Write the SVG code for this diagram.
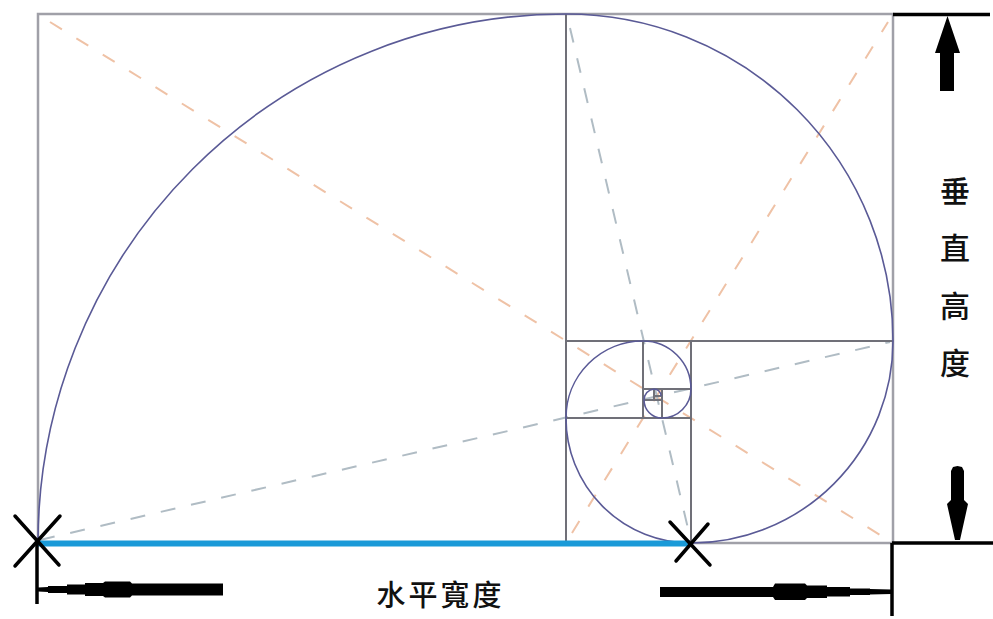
<svg xmlns="http://www.w3.org/2000/svg" width="993" height="619" viewBox="0 0 993 619">
<style>
.frame{fill:none;stroke:#a0a0a8;stroke-width:2.5}
.sq{fill:none;stroke:#707078;stroke-width:2}
.arc{fill:none;stroke:#5a5a96;stroke-width:1.6}
.dor{fill:none;stroke:#efc2a6;stroke-width:2;stroke-dasharray:14 17}
.dgr{fill:none;stroke:#b0bcc4;stroke-width:2;stroke-dasharray:15 16}
.blk{fill:none;stroke:#000;stroke-width:3.5}
.cross{fill:none;stroke:#000;stroke-width:3.5;stroke-linecap:round}
.ar{fill:#000}
.t{font-family:"Noto Sans CJK SC","Noto Sans CJK TC",sans-serif;font-size:30px;font-weight:500;fill:#111;text-anchor:middle;dominant-baseline:central}
.tb{font-family:"Noto Sans CJK TC","Noto Sans CJK SC",sans-serif;font-size:29px;font-weight:500;fill:#111;letter-spacing:3px;text-anchor:middle}
</style>
<rect width="993" height="619" fill="#fff"/>
<g id="guides">
<line class="dor" x1="50" y1="22" x2="885" y2="538"/>
<line class="dor" x1="572" y1="533" x2="888" y2="22"/>
<line class="dgr" x1="40" y1="540" x2="890" y2="342"/>
<line class="dgr" x1="570" y1="28" x2="690" y2="537"/>
</g>
<g id="rectangle">
<rect class="frame" x="38" y="14" width="855" height="529"/>
<line class="sq" x1="566" y1="14" x2="566" y2="543"/>
<line class="sq" x1="566" y1="341" x2="893" y2="341"/>
<line class="sq" x1="691" y1="341" x2="691" y2="543"/>
<line class="sq" x1="566" y1="418" x2="691" y2="418"/>
<line class="sq" x1="643" y1="341" x2="643" y2="418"/>
<line class="sq" x1="643" y1="389" x2="691" y2="389"/>
<line class="sq" x1="662" y1="389" x2="662" y2="418"/>
<line class="sq" x1="643" y1="400" x2="662" y2="400"/>
<line class="sq" x1="654" y1="389" x2="654" y2="400"/>
<line class="sq" x1="654" y1="396" x2="662" y2="396"/>
</g>
<g id="spiral">
<path class="arc" d="M38,543 A528,529 0 0 1 566,14 A327,327 0 0 1 893,341 A202,202 0 0 1 691,543 A125,125 0 0 1 566,418 A77,77 0 0 1 643,341 A48,48 0 0 1 691,389 A29,29 0 0 1 662,418 A18,18 0 0 1 644,400 A11,11 0 0 1 654,389 A7,7 0 0 1 661,396"/>
</g>
<g id="width-line">
<line x1="37" y1="543.5" x2="690" y2="543.5" stroke="#1a9ad8" stroke-width="6"/>
<line class="cross" x1="15" y1="516" x2="59" y2="565"/>
<line class="cross" x1="60" y1="516" x2="15" y2="566"/>
<line class="cross" x1="670" y1="522" x2="710" y2="565"/>
<line class="cross" x1="708" y1="524" x2="676" y2="561"/>
</g>
<g id="horizontal-dimension">
<line class="blk" x1="37" y1="543" x2="37" y2="604"/>
<polygon class="ar" points="38,587.5 48,587 48,586 67,586 67,584.5 85,584.5 85,583 103,583 105,581.5 130,581.5 132,583.5 223,583.5 223,595.5 132,595.5 130,597.5 105,597.5 103,596 85,596 85,594.5 67,594.5 67,593 48,593 48,592 38,591.5"/>
<line class="blk" x1="892" y1="543" x2="892" y2="616"/>
<polygon class="ar" points="891,589.5 870,589 870,588.5 850,588.5 850,587 827,587 827,585.5 807,585.5 805,583.5 775,583.5 773,587 660,587 660,597 773,597 775,600 805,600 807,598 827,598 827,596.5 850,596.5 850,595 870,595 870,594.5 891,594"/>
<text class="tb" x="440.5" y="606">水平寬度</text>
</g>
<g id="vertical-dimension">
<line class="blk" x1="893" y1="14.5" x2="990" y2="14.5"/>
<polygon class="ar" points="947.5,16 960,53 954,53 954,91 940,91 940,53 935,53"/>
<line class="blk" x1="892" y1="543" x2="993" y2="543"/>
<polygon class="ar" points="951,471 953,467 957.5,466 962,467 964,471 964,500 968,504 960,540 955,540 947,504 951,500"/>
<text class="t" x="955" y="189">垂</text>
<text class="t" x="955" y="246">直</text>
<text class="t" x="955" y="304">高</text>
<text class="t" x="955" y="361">度</text>
</g>
</svg>
